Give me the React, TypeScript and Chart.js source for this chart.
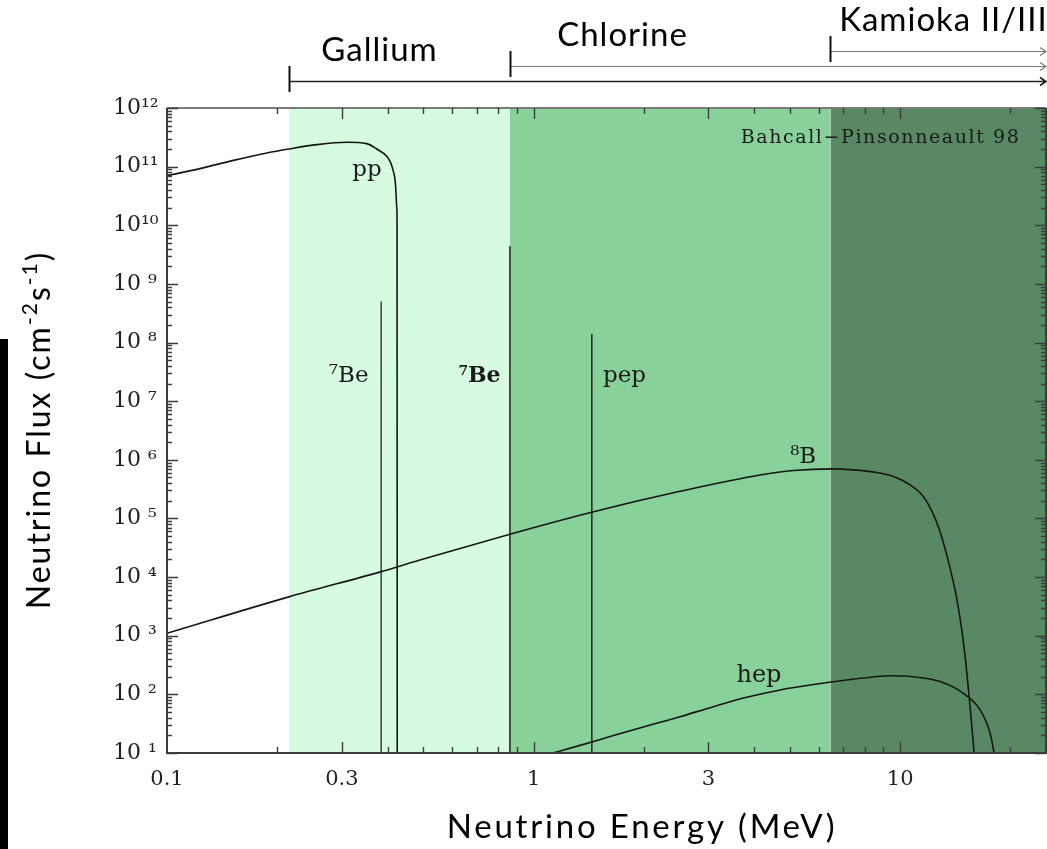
import { useEffect, useRef } from "react";
import { Chart, registerables } from "chart.js";

Chart.register(...registerables);

// Solar neutrino spectra (Bahcall–Pinsonneault 98)
// continuum sources: energy in MeV, flux per MeV
const ppEnergy = [0.1, 0.123, 0.1517, 0.1871, 0.215, 0.2562, 0.3093, 0.3507, 0.3734, 0.3977, 0.4077, 0.4145, 0.4189, 0.4215, 0.4233, 0.4242, 0.4247];
const ppFlux = [7.0e10, 9.25e10, 1.28e11, 1.71e11, 2.0e11, 2.37e11, 2.6e11, 2.47e11, 2.0e11, 1.5e11, 1.16e11, 8.3e10, 6.0e10, 3.56e10, 2.1e10, 1.25e10, 10];

const b8Energy = [0.1, 0.215, 0.384, 0.49, 0.862, 1.44, 2.51, 4.15, 5.12, 6.5, 7.46, 8.64, 9.59, 10.65, 11.57, 12.28, 12.8, 13.21, 13.58, 13.92, 14.24, 14.73, 15.11, 15.43, 15.92];
const b8Flux = [1.1e3, 4.6e3, 1.24e4, 1.95e4, 5.4e4, 1.28e5, 2.9e5, 5.5e5, 6.56e5, 7.0e5, 6.74e5, 6.07e5, 5.19e5, 3.74e5, 2.37e5, 1.23e5, 6.4e4, 3.32e4, 1.73e4, 8.95e3, 4.65e3, 1.26e3, 340, 91, 10];

const hepEnergy = [1.13, 1.339, 1.651, 2.037, 2.51, 3.095, 3.816, 4.706, 5.8, 7.15, 7.94, 9.39, 10.87, 12.86, 14.88, 16.53, 17.6, 18.05];
const hepFlux = [10, 13.5, 19.8, 28.9, 41.6, 61.7, 89.1, 119, 147, 176, 190, 208, 200, 165, 104, 54.2, 21.7, 10];

// line sources: 7Be (0.384), 7Be (0.862), pep (1.442)
const lineEnergy = [0.384, 0.862, 1.442];
const lineFlux = [5.0e8, 4.4e9, 1.4e8];

// detector thresholds (MeV) and where each band stops
const detectorNames = ["Gallium", "Chlorine", "Kamioka II/III"];
const detectorThresholds = [0.215, 0.86, 6.45];
const bandEnds = [0.86, 6.45, 25];

// axes
const xMin = 0.1;
const xMax = 25;
const yMin = 10;
const yMax = 1e12;
const xTickValues = [0.1, 0.3, 1, 3, 10];
const xTickLabels = ["0.1", "0.3", "1", "3", "10"];
const xLongTicks = [0.3, 1, 3, 10];
const xShortTicks = [0.2, 0.4, 0.5, 0.6, 0.7, 0.8, 0.9, 2, 4, 5, 6, 7, 8, 9, 20];
const yTickValues = [1e1, 1e2, 1e3, 1e4, 1e5, 1e6, 1e7, 1e8, 1e9, 1e10, 1e11, 1e12];
const yTickLabels = ["10 ¹", "10 ²", "10 ³", "10 ⁴", "10 ⁵", "10 ⁶", "10 ⁷", "10 ⁸", "10 ⁹", "10¹⁰", "10¹¹", "10¹²"];
const yMinorSteps = [2, 3, 4, 5, 6, 7, 8, 9];

// curve labels, anchored in data coordinates
const curveLabels = [
  { text: "pp", e: 0.351, f: 7.0e10, bold: false, size: 23 },
  { text: "⁷Be", e: 0.313, f: 2.1e7, bold: false, size: 23 },
  { text: "⁷Be", e: 0.712, f: 2.1e7, bold: true, size: 22 },
  { text: "pep", e: 1.77, f: 2.1e7, bold: false, size: 23 },
  { text: "⁸B", e: 5.44, f: 9.0e5, bold: false, size: 23 },
  { text: "hep", e: 4.12, f: 163, bold: false, size: 24 },
];
const sourceNote = "Bahcall−Pinsonneault 98";

const bandColors = ["#d6fbe0", "#89d19a", "#588964"];
const lineColors = ["#4a4a4a", "#2a2a2a", "#2a2a2a"];
const SERIF = "'DejaVu Serif', serif";
const SANS = "Lato, 'Open Sans', sans-serif";

const pts = (xs: number[], ys: number[]) => xs.map((x, i) => ({ x, y: ys[i] }));

const overlay = {
  id: "overlay",
  afterDraw(chart: any) {
    const { ctx, chartArea: a, scales } = chart;
    const xs = scales.x;
    const ys = scales.y;
    ctx.save();

    // frame
    ctx.lineWidth = 2;
    ctx.strokeStyle = "#7a7a7a";
    ctx.beginPath();
    ctx.moveTo(a.left, a.top);
    ctx.lineTo(a.right, a.top);
    ctx.stroke();
    ctx.strokeStyle = "#3c3c3c";
    ctx.beginPath();
    ctx.moveTo(a.left, a.top);
    ctx.lineTo(a.left, a.bottom);
    ctx.lineTo(a.right, a.bottom);
    ctx.lineTo(a.right, a.top);
    ctx.stroke();

    // inward tick marks on all four sides
    ctx.strokeStyle = "#3c3c3c";
    ctx.lineWidth = 1.4;
    const xTick = (v: number, len: number) => {
      const px = Math.round(xs.getPixelForValue(v)) + 0.5;
      ctx.beginPath();
      ctx.moveTo(px, a.bottom);
      ctx.lineTo(px, a.bottom - len);
      ctx.moveTo(px, a.top);
      ctx.lineTo(px, a.top + len);
      ctx.stroke();
    };
    xLongTicks.forEach((v) => xTick(v, 11));
    xShortTicks.forEach((v) => xTick(v, 6));
    const yTick = (v: number, len: number) => {
      const py = Math.round(ys.getPixelForValue(v)) + 0.5;
      ctx.beginPath();
      ctx.moveTo(a.left, py);
      ctx.lineTo(a.left + len, py);
      ctx.moveTo(a.right, py);
      ctx.lineTo(a.right - len, py);
      ctx.stroke();
    };
    yTickValues.forEach((d) => {
      yTick(d, 11);
      if (d < yMax) yMinorSteps.forEach((m) => yTick(d * m, 5));
    });

    // curve labels
    ctx.fillStyle = "#1a1a1a";
    ctx.textAlign = "center";
    ctx.textBaseline = "alphabetic";
    curveLabels.forEach((l) => {
      ctx.font = `${l.bold ? "bold " : ""}${l.size}px ${SERIF}`;
      ctx.fillText(l.text, xs.getPixelForValue(l.e), ys.getPixelForValue(l.f));
    });
    ctx.font = `19px ${SERIF}`;
    ctx.textAlign = "right";
    (ctx as any).letterSpacing = "1.6px";
    ctx.fillText(sourceNote, xs.getPixelForValue(21.3), ys.getPixelForValue(2.5e11));

    // detector thresholds above the plot
    const labelOffsets = [90, 112, 113];
    detectorThresholds.forEach((t, i) => {
      const px = Math.round(xs.getPixelForValue(t)) + 0.5;
      const row = 81 - 15 * i;
      ctx.strokeStyle = i === 0 ? "#222" : "#777";
      ctx.lineWidth = i === 0 ? 1.6 : 1.2;
      ctx.beginPath();
      ctx.moveTo(px, row + 0.5);
      ctx.lineTo(a.right, row + 0.5);
      ctx.moveTo(a.right - 6, row - 3.5);
      ctx.lineTo(a.right, row + 0.5);
      ctx.lineTo(a.right - 6, row + 4.5);
      ctx.stroke();
      ctx.strokeStyle = "#111";
      ctx.lineWidth = 2;
      ctx.beginPath();
      ctx.moveTo(px, row - 15);
      ctx.lineTo(px, row + 11);
      ctx.stroke();
      ctx.fillStyle = "#000";
      ctx.font = `33px ${SANS}`;
      (ctx as any).letterSpacing = "1px";
      ctx.textAlign = "center";
      ctx.fillText(detectorNames[i], px + labelOffsets[i], row - 20);
    });

    // axis titles
    ctx.fillStyle = "#000";
    ctx.font = `33px ${SANS}`;
    (ctx as any).letterSpacing = "2.8px";
    ctx.textAlign = "center";
    ctx.fillText("Neutrino Energy (MeV)", 642, 838);

    const parts = [
      { t: "Neutrino Flux (cm", sup: false },
      { t: "-2", sup: true },
      { t: "s", sup: false },
      { t: "-1", sup: true },
      { t: ")", sup: false },
    ];
    const mainFont = `32px ${SANS}`;
    const supFont = `21px ${SANS}`;
    (ctx as any).letterSpacing = "2px";
    let total = 0;
    parts.forEach((p) => {
      ctx.font = p.sup ? supFont : mainFont;
      total += ctx.measureText(p.t).width;
    });
    ctx.translate(50, 430);
    ctx.rotate(-Math.PI / 2);
    ctx.textAlign = "left";
    let cx = -total / 2;
    parts.forEach((p) => {
      ctx.font = p.sup ? supFont : mainFont;
      ctx.fillText(p.t, cx, p.sup ? -13 : 0);
      cx += ctx.measureText(p.t).width;
    });
    (ctx as any).letterSpacing = "0px";
    ctx.restore();
  },
};

export default function App() {
  const ref = useRef<HTMLCanvasElement>(null);

  useEffect(() => {
    const canvas = ref.current;
    if (!canvas) return;

    const curve = (xs: number[], ys: number[]) => ({
      data: pts(xs, ys),
      borderColor: "#161616",
      borderWidth: 1.6,
      pointRadius: 0,
      fill: false,
      cubicInterpolationMode: "monotone" as const,
    });

    const lines = lineEnergy.map((e, i) => ({
      data: [
        { x: e, y: yMin },
        { x: e, y: lineFlux[i] },
      ],
      borderColor: lineColors[i],
      borderWidth: 1.6,
      pointRadius: 0,
      fill: false,
    }));

    const bands = detectorThresholds.map((t, i) => ({
      data: [
        { x: t, y: yMax },
        { x: bandEnds[i], y: yMax },
      ],
      borderWidth: 0,
      borderColor: "rgba(0,0,0,0)",
      backgroundColor: bandColors[i],
      pointRadius: 0,
      fill: "start",
    }));

    const chart = new Chart(canvas, {
      type: "line",
      data: {
        datasets: [
          curve(ppEnergy, ppFlux),
          curve(b8Energy, b8Flux),
          curve(hepEnergy, hepFlux),
          ...lines,
          ...bands,
        ] as any,
      },
      options: {
        animation: false,
        responsive: true,
        maintainAspectRatio: false,
        events: [],
        layout: { padding: { top: 108, right: 1, left: 113, bottom: 0 } },
        plugins: {
          legend: { display: false },
          tooltip: { enabled: false },
        },
        scales: {
          x: {
            type: "logarithmic",
            min: xMin,
            max: xMax,
            afterBuildTicks: (s: any) => {
              s.ticks = xTickValues.map((v) => ({ value: v }));
            },
            afterFit: (s: any) => {
              s.height = 96;
            },
            grid: { display: false },
            border: { display: false },
            ticks: {
              autoSkip: false,
              maxRotation: 0,
              padding: 6,
              color: "#222",
              font: { family: SERIF, size: 21 },
              callback: (_v: any, i: number) => xTickLabels[i],
            },
          },
          y: {
            type: "logarithmic",
            min: yMin,
            max: yMax,
            afterBuildTicks: (s: any) => {
              s.ticks = yTickValues.map((v) => ({ value: v }));
            },
            afterFit: (s: any) => {
              s.width = 54;
            },
            grid: { display: false },
            border: { display: false },
            ticks: {
              autoSkip: false,
              crossAlign: "far",
              padding: 0,
              color: "#222",
              font: { family: SERIF, size: 22 },
              callback: (_v: any, i: number) => yTickLabels[i],
            },
          },
        },
      } as any,
      plugins: [overlay],
    });

    return () => chart.destroy();
  }, []);

  return (
    <div style={{ position: "fixed", left: 0, top: 0, width: 1047, height: 849, background: "#fff" }}>
      <canvas ref={ref} />
      <div style={{ position: "absolute", left: 0, top: 339, width: 8, height: 510, background: "#000" }} />
    </div>
  );
}
